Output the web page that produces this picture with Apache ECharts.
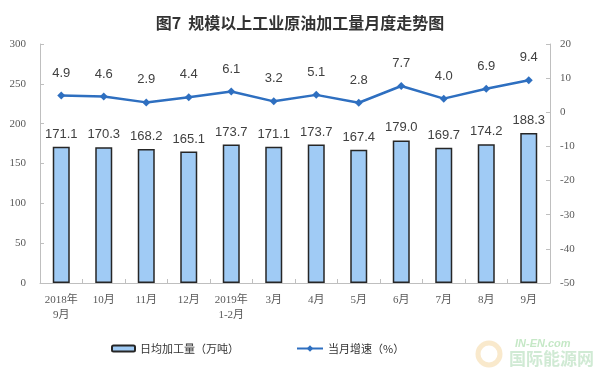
<!DOCTYPE html>
<html>
<head>
<meta charset="utf-8">
<script src="https://cdn.jsdelivr.net/npm/echarts@6/dist/echarts.min.js"></script>
<style>html,body{margin:0;padding:0;background:#fff;}#c{width:600px;height:371px;}</style>
</head>
<body>
<div id="c"></div>
<script>
const categories = ['2018年\n9月','10月','11月','12月','2019年\n1-2月','3月','4月','5月','6月','7月','8月','9月'];
const dailyOutput = [171.1,170.3,168.2,165.1,173.7,171.1,173.7,167.4,179.0,169.7,174.2,188.3];
const monthGrowth = [4.9,4.6,2.9,4.4,6.1,3.2,5.1,2.8,7.7,4.0,6.9,9.4];
const barName = '日均加工量（万吨）';
const lineName = '当月增速（%）';

const chart = echarts.init(document.getElementById('c'), null, {renderer:'canvas'});
const axisFont = {fontFamily:'"Liberation Serif","Noto Sans CJK SC",serif', fontSize:11, color:'#595959'};
chart.setOption({
  animation:false,
  backgroundColor:'#fff',
  title:{text:'图7  规模以上工业原油加工量月度走势图', left:'center', top:10,
    textStyle:{fontFamily:'"Noto Sans CJK SC",sans-serif', fontSize:16, fontWeight:'bold', color:'#333'}},
  grid:{left:40, right:50, top:44, bottom:88},
  legend:[
    {data:[barName], left:106, top:338, itemWidth:23, itemHeight:6, itemGap:4,
      textStyle:{fontFamily:'"Noto Sans CJK SC",sans-serif', fontSize:11, color:'#333'}},
    {data:[lineName], left:291, top:338, itemWidth:26, itemHeight:8,
      textStyle:{fontFamily:'"Noto Sans CJK SC",sans-serif', fontSize:11, color:'#333'}}
  ],
  xAxis:{type:'category', data:categories,
    axisLine:{lineStyle:{color:'#bfbfbf'}},
    axisTick:{show:true, inside:true, length:4, lineStyle:{color:'#bfbfbf'}},
    axisLabel:Object.assign({margin:10, lineHeight:15, interval:0}, axisFont)},
  yAxis:[
    {type:'value', min:0, max:300, interval:50, position:'left',
      axisLine:{show:true, lineStyle:{color:'#bfbfbf'}},
      axisTick:{show:true, inside:true, length:4, lineStyle:{color:'#bfbfbf'}},
      splitLine:{show:false},
      axisLabel:Object.assign({margin:14}, axisFont)},
    {type:'value', min:-50, max:20, interval:10, position:'right',
      axisLine:{show:true, lineStyle:{color:'#bfbfbf'}},
      axisTick:{show:true, inside:true, length:4, lineStyle:{color:'#bfbfbf'}},
      splitLine:{show:false},
      axisLabel:Object.assign({margin:10}, axisFont)}
  ],
  series:[
    {name:barName, type:'bar', data:dailyOutput, barWidth:17, yAxisIndex:0,
      itemStyle:{color:'#a0cbf5', borderColor:'#262626', borderWidth:1.5},
      label:{show:true, position:'top', distance:6, formatter:p=>p.value.toFixed(1),
        fontFamily:'"Liberation Sans",Arial,sans-serif', fontSize:13, color:'#404040'}},
    {name:lineName, type:'line', data:monthGrowth, yAxisIndex:1,
      symbol:'diamond', symbolSize:8,
      lineStyle:{color:'#2e6fc0', width:2.5},
      itemStyle:{color:'#2e6fc0'},
      label:{show:true, position:'top', distance:12, formatter:p=>p.value.toFixed(1),
        fontFamily:'"Liberation Sans",Arial,sans-serif', fontSize:13, color:'#404040'}}
  ],
  graphic:[
    {type:'circle', shape:{cx:489, cy:354, r:11}, style:{fill:'none', stroke:'#f3d49a', lineWidth:5, opacity:0.5}},
    {type:'text', left:515, top:338, style:{text:'IN-EN.com', fill:'#9fd8a0', opacity:0.6,
      font:'italic bold 11px "Liberation Sans",sans-serif'}},
    {type:'text', left:509, top:350, style:{text:'国际能源网', fill:'#a9d9b0', opacity:0.55,
      font:'bold 17px "Noto Sans CJK SC",sans-serif'}}
  ]
});
</script>
</body>
</html>
